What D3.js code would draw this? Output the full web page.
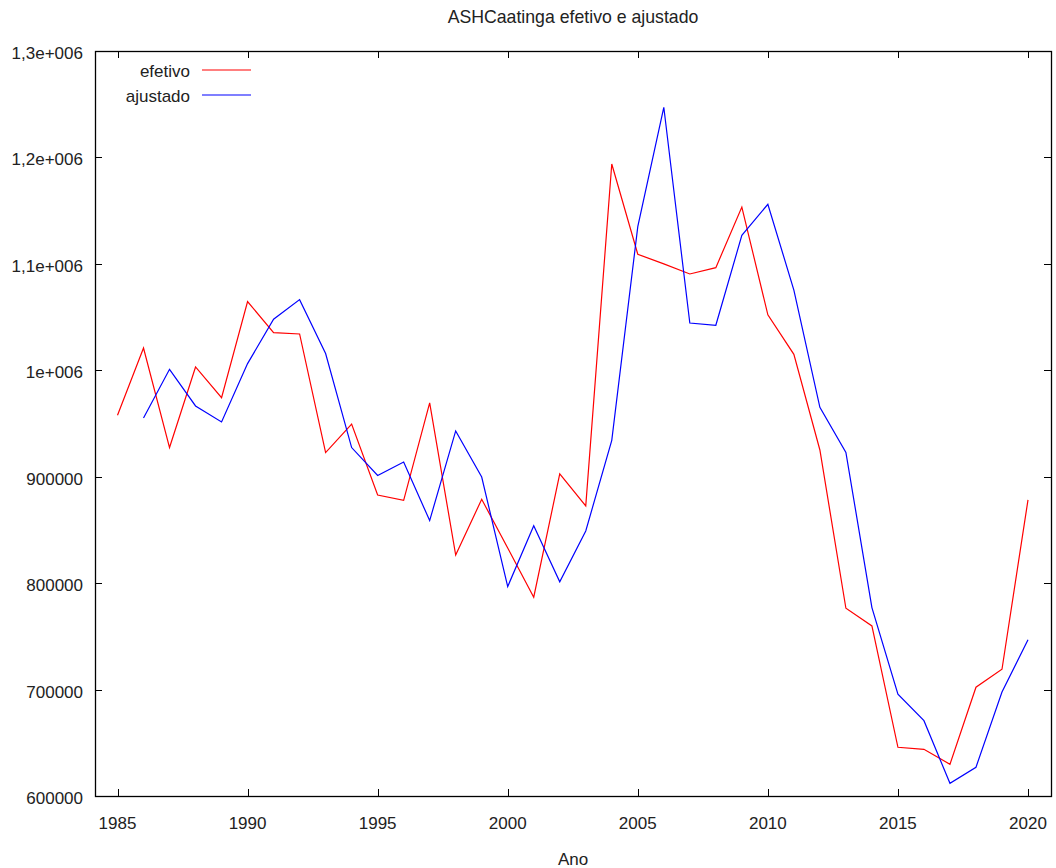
<!DOCTYPE html>
<html>
<head>
<meta charset="utf-8">
<script src="https://cdn.jsdelivr.net/npm/d3@7"></script>
<style>
  body { margin: 0; background: #fff; }
  text { font-family: "Liberation Sans", Arial, sans-serif; font-size: 17px; fill: #222; }
  text.title { font-size: 17.7px; }
</style>
</head>
<body>
<svg id="chart" width="1056" height="868"></svg>
<script>
// data
const years = d3.range(1985, 2021);
const efetivo = [957700, 1020900, 927400, 1003100, 974300, 1064500, 1035400, 1034100, 922700, 949500,
  882800, 877800, 969300, 826400, 878800, 833000, 786800, 902600, 872600, 1193800,
  1109000, 1100000, 1090500, 1096400, 1153400, 1052100, 1015000, 925100, 776400, 759800,
  645800, 643900, 629800, 702200, 719100, 878200];
const ajustadoYears = d3.range(1986, 2021);
const ajustado = [955200, 1000900, 966500, 951500, 1006300, 1048000, 1066400, 1015700, 927400,
  901200, 913800, 858800, 943000, 899700, 796800, 854000, 801200, 849000, 934200,
  1134900, 1247100, 1044400, 1042300, 1126800, 1156000, 1075400, 965200, 922900, 777000,
  695600, 670800, 611900, 627000, 697700, 746900];

const xTicks = [1985, 1990, 1995, 2000, 2005, 2010, 2015, 2020];
const yTicks = [600000, 700000, 800000, 900000, 1000000, 1100000, 1200000, 1300000];
const yTickLabels = ["600000", "700000", "800000", "900000", "1e+006", "1,1e+006", "1,2e+006", "1,3e+006"];

// plot frame
const frame = {left: 95, right: 1051, top: 51, bottom: 796};

const svg = d3.select("#chart");

const xScale = d3.scaleLinear().domain([1985, 2020]).range([117.5, 1028]);
const yScale = d3.scaleLinear().domain([600000, 1300000]).range([frame.bottom, frame.top]);

// ticks, inward on all four sides
const tickLen = 7;
const axisG = svg.append("g").attr("stroke", "#000").attr("stroke-width", 1);
xTicks.forEach(t => {
  const x = Math.round(xScale(t)) + 0.5;
  axisG.append("line").attr("x1", x).attr("x2", x).attr("y1", frame.bottom).attr("y2", frame.bottom - tickLen);
  axisG.append("line").attr("x1", x).attr("x2", x).attr("y1", frame.top).attr("y2", frame.top + tickLen);
});
yTicks.forEach(t => {
  const y = Math.round(yScale(t)) + 0.5;
  axisG.append("line").attr("x1", frame.left).attr("x2", frame.left + tickLen).attr("y1", y).attr("y2", y);
  axisG.append("line").attr("x1", frame.right).attr("x2", frame.right - tickLen).attr("y1", y).attr("y2", y);
});

// frame
svg.append("rect")
  .attr("x", frame.left + 0.5).attr("y", frame.top + 0.5)
  .attr("width", frame.right - frame.left).attr("height", frame.bottom - frame.top)
  .attr("fill", "none").attr("stroke", "#000").attr("stroke-width", 1.3);

// tick labels
svg.selectAll(".xlab").data(xTicks).join("text")
  .attr("class", "xlab")
  .attr("x", d => xScale(d))
  .attr("y", 829)
  .attr("text-anchor", "middle")
  .text(d => d);

svg.selectAll(".ylab").data(yTicks).join("text")
  .attr("class", "ylab")
  .attr("x", 83)
  .attr("y", d => yScale(d) + 8)
  .attr("text-anchor", "end")
  .text((d, i) => yTickLabels[i]);

// title and axis label
svg.append("text").attr("class", "title").attr("x", 573).attr("y", 23).attr("text-anchor", "middle")
  .text("ASHCaatinga efetivo e ajustado");
svg.append("text").attr("x", 573).attr("y", 865).attr("text-anchor", "middle")
  .text("Ano");

// lines
const line = d3.line().x(d => xScale(d[0])).y(d => yScale(d[1]));
svg.append("path")
  .datum(years.map((y, i) => [y, efetivo[i]]))
  .attr("d", line).attr("fill", "none").attr("stroke", "#ff0000").attr("stroke-width", 1.2);
svg.append("path")
  .datum(ajustadoYears.map((y, i) => [y, ajustado[i]]))
  .attr("d", line).attr("fill", "none").attr("stroke", "#0000ff").attr("stroke-width", 1.2);

// legend
const legend = [["efetivo", "#ff0000"], ["ajustado", "#0000ff"]];
legend.forEach((d, i) => {
  const y = 70 + i * 25;
  svg.append("text").attr("x", 190).attr("y", y + 7).attr("text-anchor", "end").text(d[0]);
  svg.append("line").attr("x1", 202).attr("x2", 251).attr("y1", y).attr("y2", y)
    .attr("stroke", d[1]).attr("stroke-width", 1.2);
});
</script>
</body>
</html>
